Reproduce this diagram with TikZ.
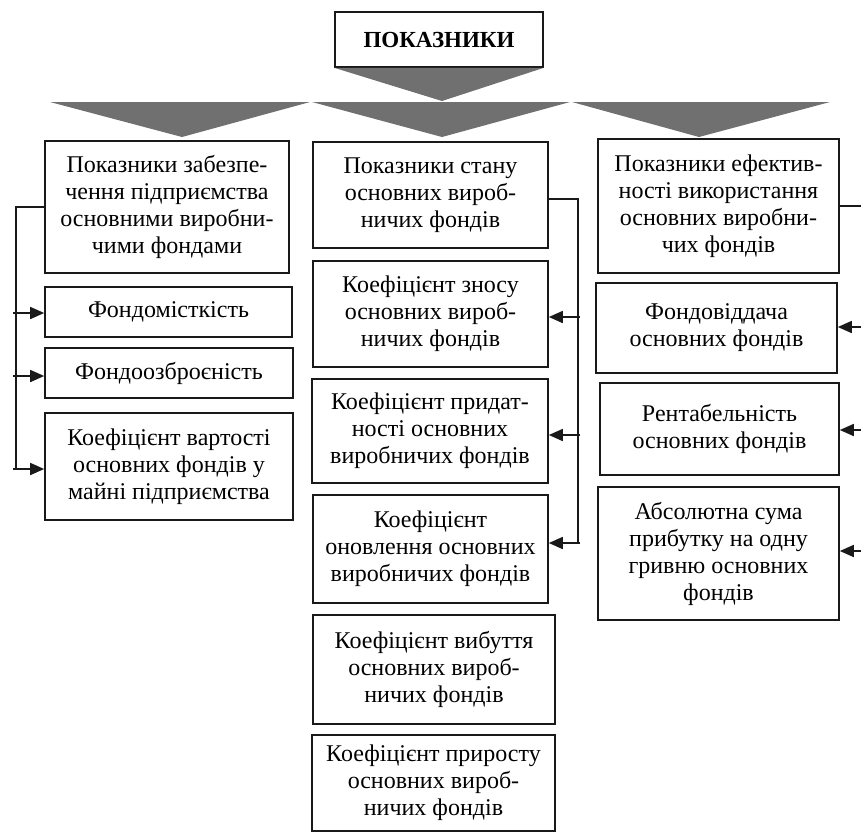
\documentclass[tikz,border=0pt]{standalone}
\usepackage{fontspec}
\setmainfont{Liberation Serif}
\usetikzlibrary{arrows.meta}
\definecolor{bandgray}{RGB}{112,112,112}
\definecolor{inkline}{RGB}{25,25,25}
\newcommand\mkbox[6]{\node[box, minimum width={(#4-#2)*1pt}, minimum height={(#5-#3)*1pt}] (#1) at ({(#2+#4)/2},{(#3+#5)/2}) {#6};}
\begin{document}
\begin{tikzpicture}[x=1pt,y=-1pt,
  box/.style={draw=inkline, line width=1.6pt, align=center, inner sep=0pt,
    font=\fontsize{24}{27}\selectfont},
  titlebox/.style={box, font=\bfseries\fontsize{23}{27}\selectfont},
  conn/.style={draw=inkline, line width=1.6pt},
  arr/.style={conn, -{Triangle[length=14pt,width=12pt]}},
  band/.style={fill=bandgray, draw=none}]
\useasboundingbox (0,0) rectangle (861,836);

% title
\node[titlebox, minimum width=208pt, minimum height=55pt] (T) at (439,39.5) {ПОКАЗНИКИ};

% gray arrows
\fill[band] (T.south west) -- (T.south east) -- (442,101) -- cycle;
\fill[band] (50,102) -- (310,102) -- (182,137) -- cycle;
\fill[band] (312,102) -- (570,102) -- (442,137) -- cycle;
\fill[band] (572,102) -- (830,102) -- (699,137) -- cycle;

% left column
\mkbox{L1}{45}{141}{289}{273}{Показники забезпе-\\чення підприємства\\основними виробни-\\чими фондами}
\mkbox{L2}{45}{287}{292}{337}{Фондомісткість}
\mkbox{L3}{45}{348}{293}{398}{Фондоозброєність}
\mkbox{L4}{45}{413}{293}{520}{Коефіцієнт вартості\\основних фондів у\\майні підприємства}

% middle column
\mkbox{M1}{313}{142}{548}{248}{Показники стану\\основних вироб-\\ничих фондів}
\mkbox{M2}{313}{261}{548}{367}{Коефіцієнт зносу\\основних вироб-\\ничих фондів}
\mkbox{M3}{312}{379}{548}{483}{Коефіцієнт придат-\\ності основних\\виробничих фондів}
\mkbox{M4}{313}{495}{548}{603}{Коефіцієнт\\оновлення основних\\виробничих фондів}
\mkbox{M5}{313}{615}{555}{724}{Коефіцієнт вибуття\\основних вироб-\\ничих фондів}
\mkbox{M6}{312}{735}{555}{831}{Коефіцієнт приросту\\основних вироб-\\ничих фондів}

% right column
\mkbox{R1}{598}{139}{839}{273}{Показники ефектив-\\ності використання\\основних виробни-\\чих фондів}
\mkbox{R2}{596}{283}{837}{373}{Фондовіддача\\основних фондів}
\mkbox{R3}{600}{383}{839}{475}{Рентабельність\\основних фондів}
\mkbox{R4}{598}{487}{839}{620}{Абсолютна сума\\прибутку на одну\\гривню основних\\фондів}

% left connectors
\coordinate (lt) at (16,207);
\coordinate (lb) at (16,469);
\coordinate (l2) at (13,313);
\coordinate (l3) at (13,376);
\coordinate (l4) at (13,469);
\draw[conn] (L1.west |- lt) -- (lt) -- (lb);
\draw[arr] (l2) -- (L2.west |- l2);
\draw[arr] (l3) -- (L3.west |- l3);
\draw[arr] (l4) -- (L4.west |- l4);

% middle connectors
\coordinate (mt) at (578,199);
\coordinate (mb) at (578,543);
\coordinate (m2) at (580,317);
\coordinate (m3) at (580,435);
\coordinate (m4) at (580,543);
\draw[conn] (M1.east |- mt) -- (mt) -- (mb);
\draw[arr] (m2) -- (M2.east |- m2);
\draw[arr] (m3) -- (M3.east |- m3);
\draw[arr] (m4) -- (M4.east |- m4);

% right connectors (vertical line is beyond the picture edge)
\coordinate (rt) at (861,206);
\coordinate (r2) at (861,327);
\coordinate (r3) at (861,430);
\coordinate (r4) at (861,551);
\draw[conn] (R1.east |- rt) -- (rt);
\draw[arr] (r2) -- (R2.east |- r2);
\draw[arr] (r3) -- (R3.east |- r3);
\draw[arr] (r4) -- (R4.east |- r4);
\end{tikzpicture}
\end{document}
